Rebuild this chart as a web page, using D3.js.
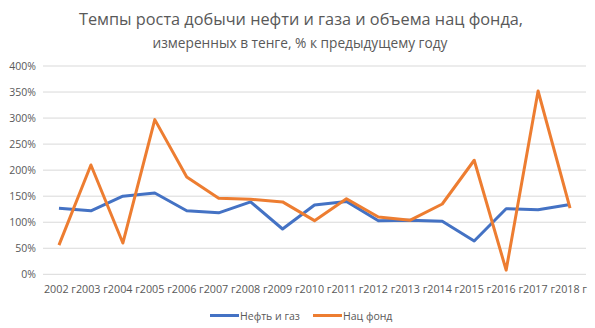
<!DOCTYPE html>
<html><head><meta charset="utf-8">
<script src="https://cdn.jsdelivr.net/npm/d3@7"></script>
<style>body{margin:0;background:#fff}svg{display:block}text{font-family:"Open Sans","Liberation Sans",sans-serif}</style>
</head><body>
<script>
const years = ["2002 г","2003 г","2004 г","2005 г","2006 г","2007 г","2008 г","2009 г","2010 г","2011 г","2012 г","2013 г","2014 г","2015 г","2016 г","2017 г","2018 г"];
const oilGas = [127,122,150,156,122,118,139,87,133,140,103,104,102,64,126,124,134];
const natFund = [56,210,60,297,187,146,144,139,103,145,110,104,135,219,8,352,127];
const yTicks = [0,50,100,150,200,250,300,350,400];
const seriesNames = ["Нефть и газ","Нац фонд"];
const colors = ["#4472C4","#ED7D31"];

const W = 595, H = 328;
const svg = d3.select("body").append("svg").attr("width", W).attr("height", H);

const x = d3.scaleBand().domain(years).range([43, 586]);
const y = d3.scaleLinear().domain([0, 400]).range([274.3, 66]);

svg.append("text").attr("x", 301).attr("y", 25).attr("text-anchor", "middle")
  .attr("font-size", 16.3).attr("fill", "#595959").text("Темпы роста добычи нефти и газа и объема нац фонда,");
svg.append("text").attr("x", 300).attr("y", 48).attr("text-anchor", "middle")
  .attr("font-size", 13.7).attr("fill", "#595959").text("измеренных в тенге, % к предыдущему году");

// horizontal gridlines
svg.append("g").selectAll("line").data(yTicks).join("line")
  .attr("x1", 43).attr("x2", 586)
  .attr("y1", d => y(d)).attr("y2", d => y(d))
  .attr("stroke", "#d9d9d9").attr("stroke-width", 1);

// y axis labels
svg.append("g").selectAll("text").data(yTicks).join("text")
  .attr("x", 36).attr("y", d => y(d) + 4)
  .attr("text-anchor", "end").attr("font-size", 10.5).attr("fill", "#595959")
  .text(d => d + "%");

// x axis labels
svg.append("g").selectAll("text").data(years).join("text")
  .attr("x", d => x(d) + x.bandwidth() / 2 + 1).attr("y", 293)
  .attr("text-anchor", "middle").attr("font-size", 10.5).attr("fill", "#595959")
  .attr("textLength", 32).attr("lengthAdjust", "spacingAndGlyphs")
  .text(d => d);

const line = d3.line().x((d, i) => x(years[i]) + x.bandwidth() / 2).y(d => y(d));
[oilGas, natFund].forEach((s, k) => {
  svg.append("path").datum(s).attr("d", line).attr("fill", "none")
    .attr("stroke", colors[k]).attr("stroke-width", 3).attr("stroke-linejoin", "round");
});

// legend
const lg = [{x: 210, k: 0}, {x: 313, k: 1}];
lg.forEach(l => {
  svg.append("line").attr("x1", l.x).attr("x2", l.x + 29).attr("y1", 315.5).attr("y2", 315.5)
    .attr("stroke", colors[l.k]).attr("stroke-width", 3);
  svg.append("text").attr("x", l.x + 30).attr("y", 319.5).attr("font-size", 10.5).attr("fill", "#595959")
    .text(seriesNames[l.k]);
});
</script>
</body></html>
